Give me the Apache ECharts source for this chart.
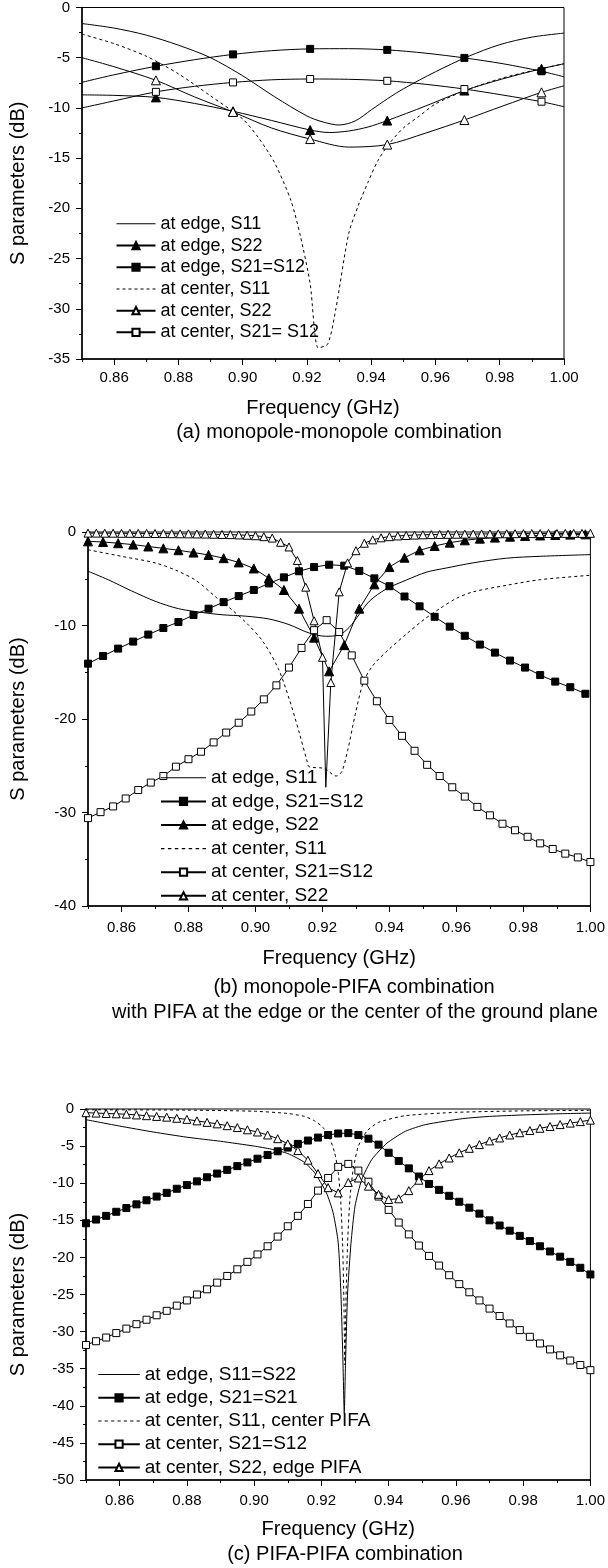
<!DOCTYPE html>
<html><head><meta charset="utf-8">
<script src="https://cdn.jsdelivr.net/npm/echarts@6/dist/echarts.min.js"></script>
<style>html,body{margin:0;padding:0;background:#fff}#c{width:608px;height:1568px}</style>
</head><body><div id="c"></div><script>
// ---------- tick labels ----------
const xMajorTicks = [0.86, 0.88, 0.90, 0.92, 0.94, 0.96, 0.98, 1.00];
const xMinorTicks = [0.85, 0.87, 0.89, 0.91, 0.93, 0.95, 0.97, 0.99];
const xTitle = 'Frequency (GHz)';
const yTitle = 'S parameters (dB)';
const captionA = ['(a) monopole-monopole combination'];
const captionB = ['(b) monopole-PIFA combination', 'with PIFA at the edge or the center of the ground plane'];
const captionC = ['(c) PIFA-PIFA combination'];

// ---------- panel (a) : [GHz, dB, marker] ----------
const aEdgeS11 = [[0.85,-1.6],[0.86,-2.05],[0.87,-2.75],[0.88,-3.75],[0.89,-5.0],[0.90,-6.8],[0.91,-8.9],[0.92,-10.8],[0.925,-11.4],[0.93,-11.7],[0.935,-11.3],[0.94,-10.2],[0.945,-9.1],[0.95,-8.1],[0.96,-6.4],[0.97,-4.9],[0.98,-3.7],[0.99,-2.95],[1.0,-2.55]];
const aEdgeS22 = [[0.85,-8.7,0],[0.86,-8.75,0],[0.873,-8.95,1],[0.885,-9.55,0],[0.897,-10.33,1],[0.909,-11.25,0],[0.921,-12.2,1],[0.927,-12.45,0],[0.933,-12.3,0],[0.939,-11.9,0],[0.945,-11.26,1],[0.957,-9.8,0],[0.969,-8.27,1],[0.981,-7.1,0],[0.993,-6.1,1],[1.0,-5.6,0]];
const aEdgeS21 = [[0.85,-7.45,0],[0.86,-6.7,0],[0.873,-5.85,1],[0.885,-5.2,0],[0.897,-4.67,1],[0.909,-4.3,0],[0.921,-4.12,1],[0.933,-4.1,0],[0.945,-4.22,1],[0.957,-4.55,0],[0.969,-5.02,1],[0.981,-5.6,0],[0.993,-6.35,1],[1.0,-6.9,0]];
const aCenterS11 = [[0.85,-2.65],[0.86,-3.6],[0.87,-4.85],[0.88,-6.6],[0.89,-8.8],[0.90,-11.1],[0.905,-13.0],[0.91,-15.5],[0.915,-19.2],[0.918,-22.8],[0.921,-27.5],[0.9235,-33.9],[0.9265,-33.5],[0.929,-30.0],[0.933,-22.5],[0.936,-19.7],[0.939,-17.4],[0.942,-15.3],[0.9455,-13.6],[0.95,-12.0],[0.955,-10.8],[0.96,-9.6],[0.969,-8.3],[0.98,-7.1],[0.99,-6.3],[1.0,-5.6]];
const aCenterS22 = [[0.85,-5.0,0],[0.86,-5.9,0],[0.873,-7.25,1],[0.885,-8.9,0],[0.897,-10.4,1],[0.909,-12.0,0],[0.921,-13.1,1],[0.933,-13.9,0],[0.945,-13.65,1],[0.957,-12.5,0],[0.969,-11.2,1],[0.981,-9.8,0],[0.993,-8.45,1],[1.0,-7.8,0]];
const aCenterS21 = [[0.85,-10.0,0],[0.86,-9.3,0],[0.873,-8.4,1],[0.885,-7.85,0],[0.897,-7.46,1],[0.909,-7.2,0],[0.921,-7.12,1],[0.933,-7.15,0],[0.945,-7.3,1],[0.957,-7.65,0],[0.969,-8.12,1],[0.981,-8.72,0],[0.993,-9.38,1],[1.0,-9.88,0]];

// ---------- panel (b) ----------
const bEdgeS11 = [[0.85,-4.2],[0.856,-5.1],[0.863,-6.3],[0.87,-7.4],[0.877,-8.2],[0.884,-8.6],[0.89,-8.85],[0.897,-9.0],[0.904,-9.3],[0.91,-9.9],[0.916,-10.8],[0.921,-11.15],[0.925,-11.0],[0.928,-10.2],[0.931,-8.8],[0.934,-7.4],[0.939,-6.1],[0.945,-5.15],[0.951,-4.3],[0.957,-3.85],[0.965,-3.3],[0.975,-2.8],[0.985,-2.6],[1.0,-2.42]];
const bSqFreq = [0.85,0.8545,0.859,0.8635,0.868,0.8725,0.877,0.8815,0.886,0.8905,0.895,0.8995,0.904,0.9085,0.913,0.9175,0.922,0.9265,0.931,0.9355,0.94,0.9445,0.949,0.9535,0.958,0.9625,0.967,0.9715,0.976,0.9805,0.985,0.9895,0.994,0.9985];
const bEdgeS21 = [-14.08,-13.26,-12.47,-11.72,-10.97,-10.27,-9.63,-8.88,-8.2,-7.5,-6.85,-6.2,-5.5,-4.85,-4.2,-3.75,-3.5,-3.6,-4.16,-4.96,-5.8,-6.9,-7.95,-9.07,-10.12,-11.1,-12.04,-12.9,-13.75,-14.5,-15.3,-16.0,-16.6,-17.3];
const bEdgeS22 = [-1.0,-1.07,-1.2,-1.35,-1.55,-1.75,-1.95,-2.2,-2.45,-2.8,-3.25,-3.9,-4.95,-6.2,-8.2,-11.3,-14.9,-12.1,-8.2,-5.6,-3.75,-2.75,-1.96,-1.5,-1.14,-0.89,-0.71,-0.6,-0.5,-0.43,-0.37,-0.32,-0.28,-0.25];
const bCenterS11 = [[0.85,-1.9],[0.86,-2.6],[0.87,-3.3],[0.8763,-4.1],[0.8823,-5.2],[0.8883,-7.0],[0.8929,-8.3],[0.8975,-9.8],[0.9022,-11.7],[0.9068,-14.6],[0.9102,-18.0],[0.9131,-21.5],[0.9154,-24.5],[0.916,-25.1],[0.9206,-25.3],[0.9241,-26.1],[0.9258,-25.6],[0.9275,-23.4],[0.9298,-19.5],[0.9322,-16.1],[0.935,-14.3],[0.94,-12.5],[0.9452,-10.87],[0.95,-9.45],[0.955,-8.2],[0.96,-7.1],[0.965,-6.4],[0.975,-5.7],[0.985,-5.1],[1.0,-4.63]];
const bOpenSqFreq = [0.85,0.85375,0.8575,0.86125,0.865,0.86875,0.8725,0.87625,0.88,0.88375,0.8875,0.89125,0.895,0.89875,0.9025,0.90625,0.91,0.91375,0.9175,0.92125,0.925,0.92875,0.9325,0.93625,0.94,0.94375,0.9475,0.95125,0.955,0.95875,0.9625,0.96625,0.97,0.97375,0.9775,0.98125,0.985,0.98875,0.9925,0.99625,1.0];
const bCenterS21 = [-30.6,-29.96,-29.35,-28.5,-27.6,-26.8,-26.1,-25.1,-24.3,-23.5,-22.5,-21.45,-20.4,-19.2,-17.9,-16.4,-14.5,-12.4,-10.5,-9.43,-10.7,-13.2,-15.9,-18.1,-20.1,-21.8,-23.4,-24.9,-26.1,-27.3,-28.3,-29.4,-30.3,-31.2,-31.9,-32.6,-33.3,-33.9,-34.4,-34.8,-35.3];
const bCenterS22 = [[0.85,-0.12],[0.8525,-0.12],[0.855,-0.13],[0.8575,-0.13],[0.86,-0.14],[0.8625,-0.14],[0.865,-0.15],[0.8675,-0.15],[0.87,-0.16],[0.8725,-0.17],[0.875,-0.18],[0.8775,-0.19],[0.88,-0.2],[0.8825,-0.21],[0.885,-0.22],[0.8875,-0.24],[0.89,-0.26],[0.8925,-0.28],[0.895,-0.31],[0.8975,-0.35],[0.90,-0.4],[0.9025,-0.5],[0.905,-0.65],[0.9075,-1.1],[0.91,-1.6],[0.9125,-3.05],[0.915,-5.9],[0.9175,-9.5],[0.92,-13.4],[0.921,-27.3,0],[0.9225,-16.1],[0.925,-6.4],[0.9275,-3.3],[0.93,-2.0],[0.9325,-1.2],[0.935,-0.84],[0.9375,-0.62],[0.94,-0.5],[0.9425,-0.42],[0.945,-0.37],[0.9475,-0.33],[0.95,-0.3],[0.9525,-0.28],[0.955,-0.26],[0.9575,-0.25],[0.96,-0.24],[0.9625,-0.23],[0.965,-0.22],[0.9675,-0.21],[0.97,-0.2],[0.9725,-0.2],[0.975,-0.19],[0.9775,-0.18],[0.98,-0.18],[0.9825,-0.17],[0.985,-0.17],[0.9875,-0.16],[0.99,-0.16],[0.9925,-0.15],[0.995,-0.15],[0.9975,-0.15],[1.0,-0.14]];

// ---------- panel (c) ----------
const cFreq = [0.85,0.853,0.856,0.859,0.862,0.865,0.868,0.871,0.874,0.877,0.88,0.883,0.886,0.889,0.892,0.895,0.898,0.901,0.904,0.907,0.91,0.913,0.916,0.919,0.922,0.925,0.928,0.931,0.934,0.937,0.94,0.943,0.946,0.949,0.952,0.955,0.958,0.961,0.964,0.967,0.97,0.973,0.976,0.979,0.982,0.985,0.988,0.991,0.994,0.997,1.0];
const cEdgeS11 = [[0.85,-1.44],[0.86,-2.3],[0.87,-3.1],[0.88,-3.8],[0.89,-4.35],[0.90,-5.0],[0.905,-5.4],[0.91,-6.0],[0.915,-7.2],[0.918,-8.6],[0.9215,-11.3],[0.9235,-14.0],[0.925,-18.0],[0.9258,-24.8],[0.9264,-33.8],[0.9268,-41.0],[0.9272,-33.8],[0.9278,-24.8],[0.9288,-18.1],[0.930,-13.1],[0.932,-9.5],[0.935,-6.8],[0.9395,-4.6],[0.945,-3.0],[0.951,-2.1],[0.962,-1.3],[0.97,-1.0],[0.98,-0.8],[0.99,-0.65],[1.0,-0.55]];
const cEdgeS21 = [-15.4,-14.9,-14.4,-13.85,-13.35,-12.85,-12.3,-11.8,-11.3,-10.75,-10.25,-9.75,-9.2,-8.7,-8.2,-7.7,-7.2,-6.7,-6.2,-5.7,-5.2,-4.7,-4.25,-3.85,-3.5,-3.3,-3.25,-3.5,-4.0,-4.8,-5.9,-7.0,-8.0,-9.1,-10.1,-10.9,-11.7,-12.5,-13.3,-14.1,-15.0,-15.7,-16.4,-17.1,-17.8,-18.5,-19.2,-19.9,-20.6,-21.4,-22.3];
const cCenterS11 = [[0.85,-0.1],[0.88,-0.15],[0.90,-0.3],[0.91,-0.6],[0.915,-1.0],[0.918,-1.6],[0.9205,-2.5],[0.9225,-4.0],[0.924,-6.0],[0.925,-8.5],[0.9257,-12],[0.9263,-18],[0.9267,-26],[0.927,-34.5],[0.9273,-26],[0.9278,-18],[0.9285,-12],[0.9295,-8.0],[0.931,-5.0],[0.9335,-3.0],[0.937,-1.8],[0.945,-0.9],[0.96,-0.45],[0.98,-0.25],[1.0,-0.18]];
const cCenterS21 = [-31.8,-31.3,-30.8,-30.2,-29.6,-29.0,-28.4,-27.8,-27.2,-26.5,-25.8,-25.0,-24.3,-23.4,-22.5,-21.6,-20.6,-19.6,-18.5,-17.2,-15.8,-14.4,-12.8,-11.0,-9.3,-7.8,-7.4,-8.3,-9.8,-11.8,-13.6,-15.3,-16.9,-18.4,-19.8,-21.1,-22.4,-23.6,-24.7,-25.8,-26.9,-27.9,-28.9,-29.8,-30.7,-31.6,-32.4,-33.2,-33.9,-34.5,-35.2];
const cCenterS22 = [-0.5,-0.55,-0.6,-0.65,-0.7,-0.8,-0.9,-1.0,-1.1,-1.25,-1.4,-1.6,-1.8,-2.0,-2.25,-2.5,-2.8,-3.1,-3.5,-4.0,-4.7,-5.6,-6.9,-8.7,-10.6,-11.3,-9.9,-9.3,-10.4,-11.5,-12.2,-12.1,-11.0,-9.6,-8.3,-7.4,-6.6,-5.9,-5.3,-4.8,-4.3,-3.9,-3.5,-3.2,-2.9,-2.6,-2.35,-2.1,-1.9,-1.7,-1.5];

// ---------- helpers ----------
const FONT = 'Liberation Sans, Arial, sans-serif';
const SOLID_ICON = 'path://M0,0L40,0L40,1L0,1Z';
const DASH_ICON = 'path://M0,0h3v1h-3zM6,0h3v1h-3zM12,0h3v1h-3zM18,0h3v1h-3zM24,0h3v1h-3zM30,0h3v1h-3zM36,0h3v1h-3z';
const lineIconStyle = { borderWidth: 0, color: '#000' };
function pts(arr, defMark) {
  return arr.map(p => {
    const m = p.length > 2 ? p[2] : defMark;
    const d = { value: [p[0], p[1]] };
    if (!m) d.symbol = 'none';
    return d;
  });
}
function zip(xs, ys) { return xs.map((x, i) => [x, ys[i], 1]); }
function ser(name, idx, data, sym, size, open, opts) {
  return Object.assign({
    name, type: 'line', xAxisIndex: idx * 2, yAxisIndex: idx,
    data, symbol: sym, symbolSize: size, showSymbol: true, showAllSymbol: true,
    smooth: false, animation: false, clip: true,
    lineStyle: { color: '#000', width: 1 },
    itemStyle: { color: open ? '#fff' : '#000', borderColor: '#000', borderWidth: 1 },
    emphasis: { disabled: true }
  }, opts || {});
}
const grids = [
  { left: 82, top: 7, width: 482, height: 352 },
  { left: 88, top: 532, width: 504, height: 374 },
  { left: 86, top: 1109, width: 506, height: 371 }
].map(g => Object.assign(g, { show: true, borderColor: '#000', borderWidth: 1, backgroundColor: 'transparent' }));
const xGaps = [39, 42, 39];
const xLabelMargins = [11, 14, 13];
const xAxes = [];
for (let i = 0; i < 3; i++) {
  xAxes.push({
    type: 'value', gridIndex: i, min: 0.85, max: 1.0, position: 'bottom',
    axisLine: { show: true, onZero: false, lineStyle: { color: '#000', width: 1.5 } },
    axisTick: { show: true, length: 6, customValues: xMajorTicks, lineStyle: { color: '#000', width: 1 } },
    axisLabel: { show: true, customValues: xMajorTicks, formatter: v => v.toFixed(2), fontSize: 15, color: '#000', fontFamily: FONT, margin: xLabelMargins[i] },
    splitLine: { show: false },
    name: xTitle, nameLocation: 'middle', nameGap: xGaps[i],
    nameTextStyle: { fontSize: 20, color: '#000', fontFamily: FONT }
  });
  xAxes.push({
    type: 'value', gridIndex: i, min: 0.85, max: 1.0, position: 'bottom',
    axisLine: { show: false, onZero: false },
    axisTick: { show: true, length: 3, customValues: xMinorTicks, lineStyle: { color: '#000', width: 1 } },
    axisLabel: { show: false }, splitLine: { show: false }
  });
}
const yMins = [-35, -40, -50], yInts = [5, 10, 5], yGaps = [54, 60, 58];
const yAxes = [0, 1, 2].map(i => ({
  type: 'value', gridIndex: i, min: yMins[i], max: 0, interval: yInts[i],
  axisLine: { show: true, onZero: false, lineStyle: { color: '#000', width: 1.5 } },
  axisTick: { show: true, length: 6, lineStyle: { color: '#000', width: 1 } },
  minorTick: { show: true, splitNumber: 2, length: 3, lineStyle: { color: '#000', width: 1 } },
  axisLabel: { fontSize: 15, color: '#000', fontFamily: FONT, margin: 12 },
  splitLine: { show: false }, minorSplitLine: { show: false },
  name: yTitle, nameLocation: 'middle', nameGap: yGaps[i], nameRotate: 90,
  nameTextStyle: { fontSize: 20, color: '#000', fontFamily: FONT }
}));

const series = [
  // (a)
  ser('at edge, S11', 0, pts(aEdgeS11, 0), 'none', 0, false, { smooth: 0.3 }),
  ser('at edge, S22', 0, pts(aEdgeS22, 0), 'triangle', 9, false, { smooth: 0.3 }),
  ser('at edge, S21=S12', 0, pts(aEdgeS21, 0), 'rect', 7, false, { smooth: 0.3 }),
  ser('at center, S11', 0, pts(aCenterS11, 0), 'none', 0, false, { smooth: 0.25, lineStyle: { color: '#000', width: 1, type: [3, 3] } }),
  ser('at center, S22', 0, pts(aCenterS22, 0), 'triangle', 9, true, { smooth: 0.3 }),
  ser('at center, S21= S12', 0, pts(aCenterS21, 0), 'rect', 7, true, { smooth: 0.3 }),
  // (b)
  ser('at edge, S11', 1, pts(bEdgeS11, 0), 'none', 0, false, { smooth: 0.3 }),
  ser('at edge, S21=S12', 1, pts(zip(bSqFreq, bEdgeS21), 1), 'rect', 7, false),
  ser('at edge, S22', 1, pts(zip(bSqFreq, bEdgeS22), 1), 'triangle', 9, false),
  ser('at center, S11', 1, pts(bCenterS11, 0), 'none', 0, false, { smooth: 0.3, lineStyle: { color: '#000', width: 1, type: [3, 3] } }),
  ser('at center, S21=S12', 1, pts(zip(bOpenSqFreq, bCenterS21), 1), 'rect', 7, true),
  ser('at center, S22', 1, pts(bCenterS22, 1), 'triangle', 8, true),
  // (c)
  ser('at edge, S11=S22', 2, pts(cEdgeS11, 0), 'none', 0, false, { smooth: 0.2 }),
  ser('at edge, S21=S21', 2, pts(zip(cFreq, cEdgeS21), 1), 'rect', 7, false),
  ser('at center, S11, center PIFA', 2, pts(cCenterS11, 0), 'none', 0, false, { smooth: 0.2, lineStyle: { color: '#000', width: 1, type: [3, 3] } }),
  ser('at center, S21=S12', 2, pts(zip(cFreq, cCenterS21), 1), 'rect', 7, true),
  ser('at center, S22, edge PIFA', 2, pts(zip(cFreq, cCenterS22), 1), 'triangle', 8, true)
];

function lineItem(name, icon) { return { name, icon, itemStyle: lineIconStyle }; }
const legendBase = { orient: 'vertical', itemGap: 0, itemHeight: 9, selectedMode: false, inactiveColor: '#000' };
const legends = [
  Object.assign({}, legendBase, { left: 110.5, top: 208, itemWidth: 39,
    textStyle: { fontSize: 18, lineHeight: 21.7, color: '#000', fontFamily: FONT },
    data: [lineItem('at edge, S11', SOLID_ICON), 'at edge, S22', 'at edge, S21=S12', lineItem('at center, S11', DASH_ICON), 'at center, S22', 'at center, S21= S12'] }),
  Object.assign({}, legendBase, { left: 155, top: 761, itemWidth: 45,
    textStyle: { fontSize: 19, lineHeight: 23.6, color: '#000', fontFamily: FONT },
    data: [lineItem('at edge, S11', SOLID_ICON), 'at edge, S21=S12', 'at edge, S22', lineItem('at center, S11', DASH_ICON), 'at center, S21=S12', 'at center, S22'] }),
  Object.assign({}, legendBase, { left: 92.3, top: 1358, itemWidth: 41.5,
    textStyle: { fontSize: 19, lineHeight: 23.2, color: '#000', fontFamily: FONT },
    data: [lineItem('at edge, S11=S22', SOLID_ICON), 'at edge, S21=S21', lineItem('at center, S11, center PIFA', DASH_ICON), 'at center, S21=S12', 'at center, S22, edge PIFA'] })
];

function cap(text, x, y) {
  return { type: 'text', x, y, style: { text, textAlign: 'center', textVerticalAlign: 'middle', fontSize: 20, fontFamily: FONT, fill: '#000' } };
}
const graphics = [
  cap(captionA[0], 339, 432.3),
  cap(captionB[0], 354, 987),
  cap(captionB[1], 355, 1012),
  cap(captionC[0], 345, 1554)
];

const chart = echarts.init(document.getElementById('c'), null, { renderer: 'canvas' });
chart.setOption({
  backgroundColor: '#fff', animation: false,
  grid: grids, xAxis: xAxes, yAxis: yAxes, series, legend: legends, graphic: graphics
});
</script></body></html>
